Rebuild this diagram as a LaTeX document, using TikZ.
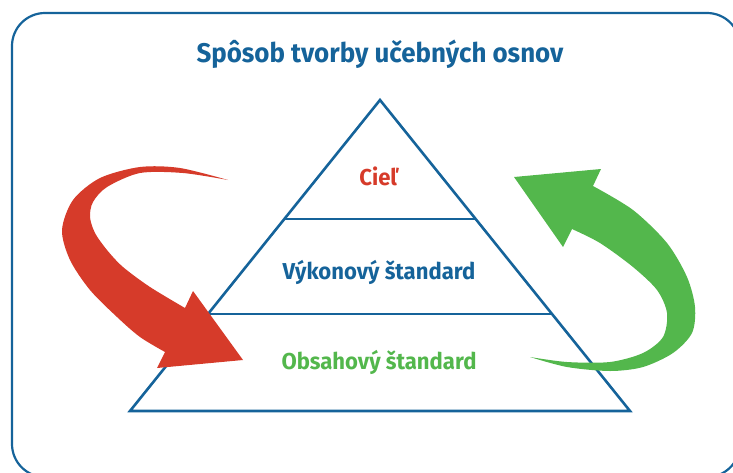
\documentclass[tikz,border=0pt]{standalone}
\usepackage{fontspec}
\setmainfont{Fira Sans}[FakeStretch=0.96]
\usetikzlibrary{calc}

\definecolor{osnovablue}{HTML}{15639A}
\definecolor{osnovared}{HTML}{D63B2A}
\definecolor{osnovagreen}{HTML}{53B74C}

\tikzset{
  frame/.style={draw=osnovablue, line width=2.2pt, rounded corners=33pt},
  edge/.style={draw=osnovablue, line width=2.6pt, line join=miter},
  level/.style={draw=osnovablue, line width=1.4pt},
  caption/.style={anchor=base, font=\bfseries\fontsize{23}{26}\selectfont},
}

\begin{document}
\begin{tikzpicture}[x=1pt,y=-1pt]
\path[use as bounding box, clip] (0,0) rectangle (733,472);
\draw[frame] (12,13) rectangle (740,477);
\node[anchor=base, text=osnovablue, font=\bfseries\fontsize{27}{30}\selectfont] (title) at (380,62) {Spôsob tvorby učebných osnov};
% pyramid
\coordinate (apex) at (380,100);
\coordinate (bl) at (130,411);
\coordinate (br) at (630,411);
\coordinate (l1) at ($(apex)!0.383!(bl)$);
\coordinate (r1) at ($(apex)!0.383!(br)$);
\coordinate (l2) at ($(apex)!0.688!(bl)$);
\coordinate (r2) at ($(apex)!0.688!(br)$);
\draw[level] (l1) -- (r1);
\draw[level] (l2) -- (r2);
\draw[edge] (bl) -- (apex) -- (br) -- cycle;
\node[caption, text=osnovared] (ciel) at (379,185) {Cieľ};
\node[caption, text=osnovablue] (vykon) at (379,279) {Výkonový štandard};
\node[caption, text=osnovagreen] (obsah) at (379,369) {Obsahový štandard};
% red arrow
\fill[osnovared] plot[smooth] coordinates {(228,180) (183,173) (140,173) (107,187) (93,202) (90,217) (95,233) (107,250) (123,267) (150,287) (185,308)}
  -- (193,291) -- (243,360) -- (157,368) -- (165,352)
  -- plot[smooth] coordinates {(165,352) (140,337) (117,317) (90,290) (70,260) (62,230) (73,200) (100,178) (140,167) (180,168) (228,180)} -- cycle;
% green arrow
\fill[osnovagreen] plot[smooth] coordinates {(593,186) (633,210) (667,243) (687,277) (695,307) (692,333) (673,353) (643,367) (610,371) (567,367) (530,357)}
  -- plot[smooth] coordinates {(530,357) (567,362) (610,362) (643,353) (663,337) (667,313) (657,290) (633,267) (600,243) (572,229)}
  -- (563,247) -- (514,177) -- (601,169) -- cycle;
\end{tikzpicture}
\end{document}
